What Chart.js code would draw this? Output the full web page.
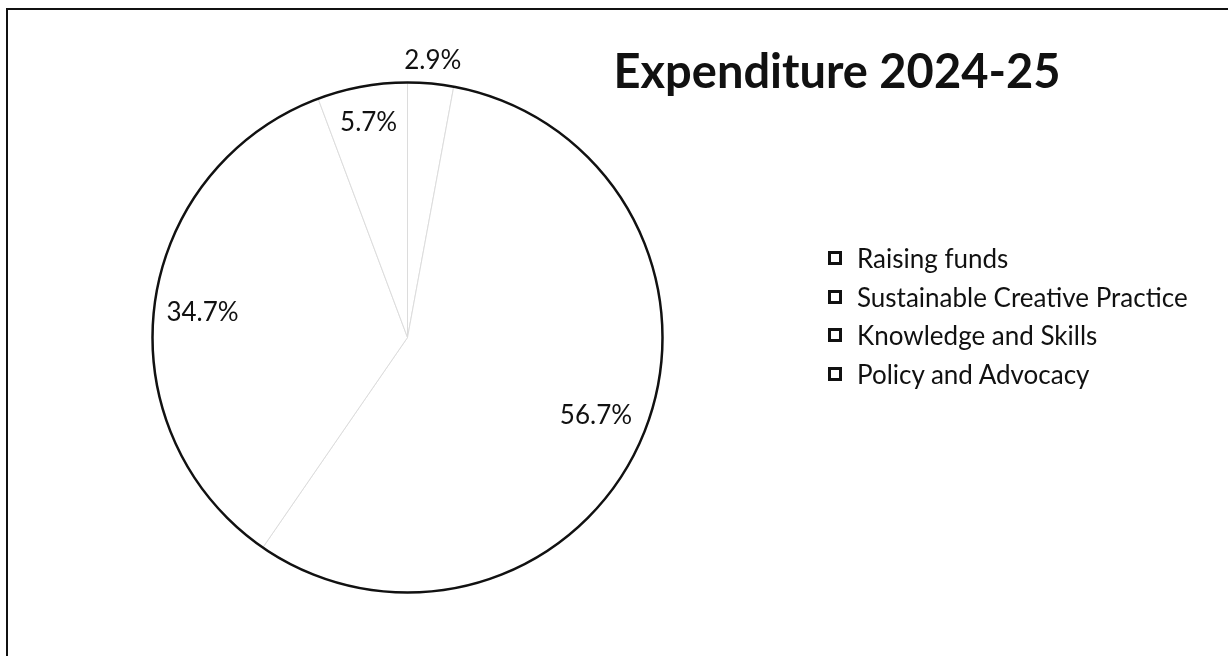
<!DOCTYPE html>
<html>
<head>
<meta charset="utf-8">
<title>Expenditure 2024-25</title>
<script src="https://cdn.jsdelivr.net/npm/chart.js@4.4.1/dist/chart.umd.min.js"></script>
<style>
  html, body { margin: 0; padding: 0; background: #fff; }
  body { width: 1228px; height: 656px; overflow: hidden; position: relative; font-family: Lato, "Open Sans", sans-serif; color: #111; }
  #frame { position: absolute; left: 6px; top: 8px; width: 1240px; height: 670px; border-left: 2px solid #111; border-top: 2px solid #111; }
  #wrap { position: absolute; left: 0; top: 0; width: 1228px; height: 656px; }
  #title { position: absolute; left: 600px; width: 474px; top: 42px; text-align: center; font-weight: 700; font-size: 47px; line-height: 56px; }
  #legend { position: absolute; left: 828px; top: 239px; list-style: none; margin: 0; padding: 0; font-size: 26px; }
  #legend li { height: 38.5px; display: flex; align-items: center; }
  #legend .box { width: 8px; height: 8px; border: 3px solid #111; background: #fff; margin-right: 15px; }
</style>
</head>
<body>
<div id="frame"></div>
<div id="wrap"><canvas id="pie"></canvas></div>
<div id="title">Expenditure 2024-25</div>
<ul id="legend"></ul>
<script>
// 支出の内訳 (%)
const categories = [
  'Raising funds',
  'Sustainable Creative Practice',
  'Knowledge and Skills',
  'Policy and Advocacy',
];
const shares = [2.9, 56.7, 34.7, 5.7];

// ラベルを置く半径（外周に対する割合）
const labelRadius = [1.09, 0.80, 0.81, 0.856];

// 凡例はHTMLで作る
const legendEl = document.getElementById('legend');
categories.forEach(name => {
  const li = document.createElement('li');
  const box = document.createElement('span');
  box.className = 'box';
  li.appendChild(box);
  li.appendChild(document.createTextNode(name));
  legendEl.appendChild(li);
});

// 外周の線とパーセント表示
const sliceLabels = {
  id: 'sliceLabels',
  afterDatasetsDraw(chart) {
    const ctx = chart.ctx;
    const arcs = chart.getDatasetMeta(0).data;
    ctx.save();
    const a = arcs[0];
    ctx.beginPath();
    ctx.arc(a.x, a.y, a.outerRadius, 0, Math.PI * 2);
    ctx.lineWidth = 2.5;
    ctx.strokeStyle = '#111';
    ctx.stroke();

    ctx.font = '26px Lato';
    ctx.fillStyle = '#111';
    ctx.textAlign = 'center';
    ctx.textBaseline = 'middle';
    arcs.forEach((arc, i) => {
      const mid = (arc.startAngle + arc.endAngle) / 2;
      const r = arc.outerRadius * labelRadius[i];
      ctx.fillText(shares[i].toFixed(1) + '%', arc.x + Math.cos(mid) * r, arc.y + Math.sin(mid) * r);
    });
    ctx.restore();
  }
};

const data = {
  labels: categories,
  datasets: [{
    data: shares,
    backgroundColor: '#ffffff',
    borderColor: '#dcdcdc',
    borderWidth: 1,
  }]
};

const config = {
  type: 'pie',
  data: data,
  options: {
    responsive: true,
    maintainAspectRatio: false,
    animation: false,
    events: [],
    layout: { padding: { top: 82, bottom: 63, left: 152, right: 565 } },
    plugins: {
      legend: { display: false },
      tooltip: { enabled: false },
    }
  },
  plugins: [sliceLabels]
};

const myChart = new Chart(document.getElementById('pie'), config);
</script>
</body>
</html>
